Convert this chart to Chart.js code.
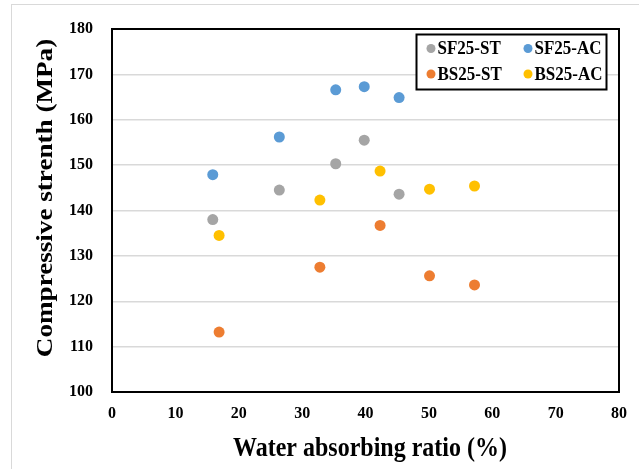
<!DOCTYPE html>
<html>
<head>
<meta charset="utf-8">
<script src="https://cdn.jsdelivr.net/npm/chart.js@4.4.1/dist/chart.umd.min.js"></script>
<style>
  html, body { margin: 0; padding: 0; background: #fff; }
  #wrap { width: 639px; height: 469px; }
</style>
</head>
<body>
<div id="wrap"><canvas id="chart" width="639" height="469"></canvas></div>
<script>
// valeurs
const seriesNames = ['SF25-ST', 'SF25-AC', 'BS25-ST', 'BS25-AC'];
const seriesColors = ['#A5A5A5', '#5B9BD5', '#ED7D31', '#FFC000'];

const sfX = [15.9, 26.4, 35.3, 39.8, 45.3];
const sfST = [138.0, 144.5, 150.3, 155.5, 143.6];
const sfAC = [147.9, 156.2, 166.6, 167.3, 164.9];

const bsX = [16.9, 32.8, 42.3, 50.1, 57.2];
const bsST = [113.2, 127.5, 136.7, 125.6, 123.6];
const bsAC = [134.5, 142.3, 148.7, 144.7, 145.4];

const xTicks = [0, 10, 20, 30, 40, 50, 60, 70, 80];
const yTicks = [100, 110, 120, 130, 140, 150, 160, 170, 180];

const xTitle = 'Water absorbing ratio (%)';
const yTitle = 'Compressive strenth (MPa)';

const serif = "'Liberation Serif', 'Times New Roman', serif";
const stretch = 1.13; // le texte de l'original est un peu étiré en hauteur

const toPoints = (xs, ys) => xs.map((x, i) => ({ x: x, y: ys[i] }));
const allY = [sfST, sfAC, bsST, bsAC];
const allX = [sfX, sfX, bsX, bsX];

const datasets = seriesNames.map((name, i) => ({
    label: name,
    data: toPoints(allX[i], allY[i]),
    backgroundColor: seriesColors[i],
    borderColor: seriesColors[i],
    borderWidth: 0,
    pointRadius: 5.5,
    pointHoverRadius: 5.5
}));

// cadre gris extérieur + cadre noir de la zone de tracé + titres + légende
const decor = {
    id: 'decor',
    beforeDraw(chart) {
        const ctx = chart.ctx;
        ctx.save();
        ctx.fillStyle = '#fff';
        ctx.fillRect(0, 0, chart.width, chart.height);
        ctx.strokeStyle = '#d9d9d9';
        ctx.lineWidth = 1;
        ctx.strokeRect(11.5, 4.5, chart.width, chart.height);
        ctx.restore();
    },
    afterDatasetsDraw(chart) {
        const ctx = chart.ctx;
        const a = chart.chartArea;
        ctx.save();
        ctx.strokeStyle = '#000';
        ctx.lineWidth = 2;
        ctx.strokeRect(a.left, a.top, a.right - a.left, a.bottom - a.top);
        ctx.restore();

        // titres des axes
        ctx.save();
        ctx.fillStyle = '#000';
        ctx.font = 'bold 24px ' + serif;
        ctx.textAlign = 'center';
        ctx.textBaseline = 'middle';
        ctx.translate(370, 449);
        ctx.scale(1, stretch);
        ctx.fillText(xTitle, 0, 0);
        ctx.restore();

        ctx.save();
        ctx.fillStyle = '#000';
        ctx.font = 'bold 24px ' + serif;
        ctx.textAlign = 'center';
        ctx.textBaseline = 'middle';
        ctx.translate(46, 198);
        ctx.rotate(-Math.PI / 2);
        ctx.scale(stretch, 1);
        ctx.fillText(yTitle, 0, 0);
        ctx.restore();

        // légende encadrée
        ctx.save();
        const box = { x: 416.5, y: 34.5, w: 190, h: 55 };
        ctx.fillStyle = '#fff';
        ctx.fillRect(box.x, box.y, box.w, box.h);
        ctx.strokeStyle = '#000';
        ctx.lineWidth = 2;
        ctx.strokeRect(box.x, box.y, box.w, box.h);
        ctx.font = 'bold 17px ' + serif;
        ctx.textAlign = 'left';
        ctx.textBaseline = 'middle';
        const cols = [431, 528];
        const rows = [48.5, 74];
        chart.data.datasets.forEach((ds, i) => {
            const cx = cols[i % 2];
            const cy = rows[Math.floor(i / 2)];
            ctx.fillStyle = ds.backgroundColor;
            ctx.beginPath();
            ctx.arc(cx, cy, 4.5, 0, Math.PI * 2);
            ctx.fill();
            ctx.fillStyle = '#000';
            ctx.save();
            ctx.translate(cx + 6.5, cy + 1);
            ctx.scale(1, stretch);
            ctx.fillText(ds.label, 0, 0);
            ctx.restore();
        });
        ctx.restore();
    }
};

new Chart(document.getElementById('chart').getContext('2d'), {
    type: 'scatter',
    data: { datasets: datasets },
    options: {
        responsive: false,
        animation: false,
        layout: { padding: { left: 0, top: 29, right: 20, bottom: 0 } },
        plugins: {
            legend: { display: false },
            tooltip: { enabled: false }
        },
        scales: {
            x: {
                type: 'linear',
                min: xTicks[0],
                max: xTicks[xTicks.length - 1],
                afterBuildTicks: (scale) => { scale.ticks = xTicks.map(v => ({ value: v })); },
                afterFit: (scale) => { scale.height = 77; },
                grid: { display: false, drawTicks: false },
                border: { display: false },
                ticks: {
                    autoSkip: false,
                    maxRotation: 0,
                    padding: 12,
                    color: '#000',
                    font: { family: serif, size: 16, weight: 'bold' }
                }
            },
            y: {
                type: 'linear',
                min: yTicks[0],
                max: yTicks[yTicks.length - 1],
                afterBuildTicks: (scale) => { scale.ticks = yTicks.map(v => ({ value: v })); },
                afterFit: (scale) => { scale.width = 112; },
                grid: { color: '#d9d9d9', lineWidth: 1.5, drawTicks: false },
                border: { display: false },
                ticks: {
                    padding: 19,
                    color: '#000',
                    font: { family: serif, size: 16, weight: 'bold' }
                }
            }
        }
    },
    plugins: [decor]
});
</script>
</body>
</html>
